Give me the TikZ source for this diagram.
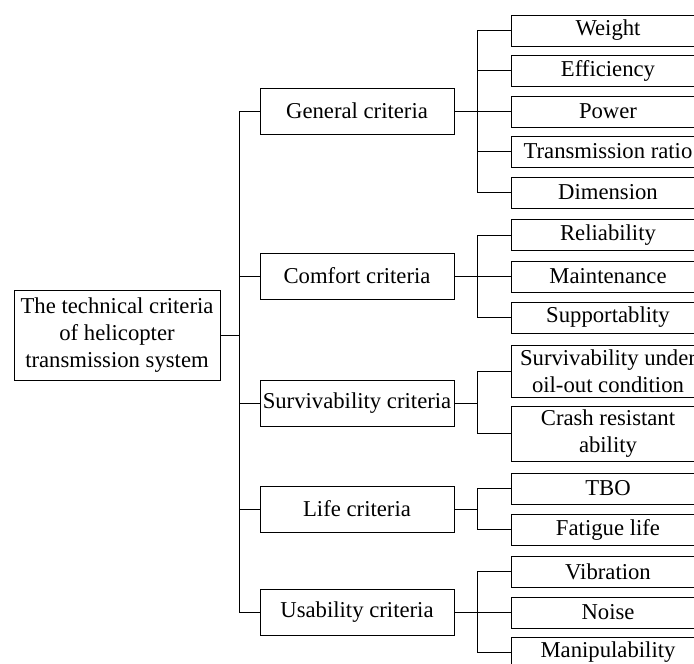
\documentclass[tikz,border=0pt]{standalone}
\usepackage{fontspec}
\setmainfont{Liberation Serif}
\tikzset{
    crit/.style={draw, line width=0.8pt, minimum width=194pt, minimum height=#1, inner sep=0pt, align=center, font=\fontsize{22.7}{27}\selectfont},
    crit/.default=31pt,
    link/.style={line width=0.8pt}
}
\begin{document}
\begin{tikzpicture}[x=1pt, y=1pt]
    \clip (0,0) rectangle (694,664);

    % Racine
    \node[crit=90pt, minimum width=206pt] (root) at (117,329) {The technical criteria\\of helicopter\\transmission system};

    % Criteres principaux
    \node[crit=46pt] (gen) at (357,553) {General criteria};
    \node[crit=46pt] (com) at (357,388) {Comfort criteria};
    \node[crit=46pt] (sur) at (357,261) {Survivability criteria};
    \node[crit=46pt] (lif) at (357,155) {Life criteria};
    \node[crit=46pt] (usa) at (357,52) {Usability criteria};

    % Sous-criteres
    \node[crit] (wei) at (608,633.5) {Weight};
    \node[crit] (eff) at (608,593.5) {Efficiency};
    \node[crit] (pow) at (608,552.5) {Power};
    \node[crit] (tra) at (608,512.5) {Transmission ratio};
    \node[crit] (dim) at (608,471.5) {Dimension};
    \node[crit] (rel) at (608,429) {Reliability};
    \node[crit] (mai) at (608,387.5) {Maintenance};
    \node[crit] (sup) at (608,346.5) {Supportablity};
    \node[crit=52pt] (oil) at (608,293) {Survivability under\\oil-out condition};
    \node[crit=55pt] (cra) at (608,230.5) {Crash resistant\\ability};
    \node[crit] (tbo) at (608,175.5) {TBO};
    \node[crit] (fat) at (608,134.5) {Fatigue life};
    \node[crit] (vib) at (608,92.5) {Vibration};
    \node[crit] (noi) at (608,51.5) {Noise};
    \node[crit] (man) at (608,11.5) {Manipulability};

    % Liaisons
    \foreach \m in {gen,com,sur,lif,usa}
        \draw[link] (\m.west) -- ++(-20,0) |- (root.east);
    \foreach \l in {wei,eff,pow,tra,dim}
        \draw[link] (\l.west) -- ++(-33,0) |- (gen.east);
    \foreach \l in {rel,mai,sup}
        \draw[link] (\l.west) -- ++(-33,0) |- (com.east);
    \foreach \l in {oil,cra}
        \draw[link] (\l.west) -- ++(-33,0) |- (sur.east);
    \foreach \l in {tbo,fat}
        \draw[link] (\l.west) -- ++(-33,0) |- (lif.east);
    \foreach \l in {vib,noi,man}
        \draw[link] (\l.west) -- ++(-33,0) |- (usa.east);
\end{tikzpicture}
\end{document}
